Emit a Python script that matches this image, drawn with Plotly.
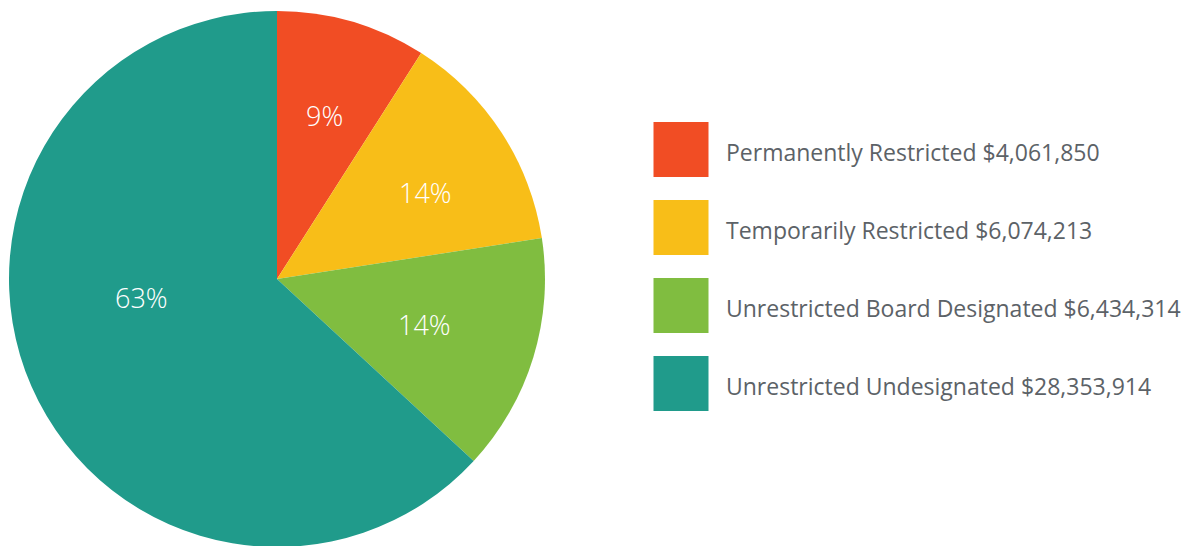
import math
import plotly.graph_objects as go

categories = ["Permanently Restricted", "Temporarily Restricted",
              "Unrestricted Board Designated", "Unrestricted Undesignated"]
values = [4061850, 6074213, 6434314, 28353914]
colors = ["#F14D24", "#F8BE18", "#80BD40", "#209B8B"]

W, H = 1195, 546
OFF = 8  # default page body margin shifts the figure by 8px
legend_text = [f"{c} ${v:,}" for c, v in zip(categories, values)]

# Pie geometry (page pixels)
cx, cy, R = 277, 279, 268
label_radius = [0.635, 0.64, 0.575, 0.51]
label_angle_shift = [0, 3, 0, 16]

fig = go.Figure()
fig.add_trace(go.Pie(
    labels=categories, values=values, sort=False, direction="clockwise",
    rotation=0, marker=dict(colors=colors, line=dict(width=0)),
    textinfo="none",
    domain=dict(x=[(cx - R - OFF) / W, (cx + R - OFF) / W],
                y=[1 - (cy + R - OFF) / H, 1 - (cy - R - OFF) / H]),
    showlegend=False, hoverinfo="label+value+percent",
))

# Percentage labels placed from the data (mid-angle of each slice)
total = sum(values)
cum = 0
for v, rf, sh in zip(values, label_radius, label_angle_shift):
    mid = (cum + v / 2) / total * 360 + sh
    cum += v
    px = cx + rf * R * math.sin(math.radians(mid)) - OFF
    py = cy - rf * R * math.cos(math.radians(mid)) - OFF
    fig.add_annotation(
        x=px / W, y=1 - py / H, xref="paper", yref="paper",
        text=f"{round(v / total * 100)}%", showarrow=False,
        xanchor="center", yanchor="middle",
        font=dict(color="white", size=27, family="Open Sans", weight=300),
    )

# Legend built as a scatter on its own axes
fig.add_trace(go.Scatter(
    x=[0] * len(categories), y=categories, mode="markers",
    marker=dict(symbol="square", size=55, color=colors, line=dict(width=0)),
    showlegend=False, hoverinfo="skip", xaxis="x", yaxis="y",
))
for c, t in zip(categories, legend_text):
    fig.add_annotation(
        x=43, y=c, xref="x", yref="y", text=t, showarrow=False,
        xanchor="left", yanchor="middle", yshift=-2,
        font=dict(size=23, color="#5C6267", family="Open Sans"),
    )

x0 = 681 - OFF  # swatch centre pixel
y_first, step = 149.5 - OFF, 78
fig.update_layout(
    width=W, height=H, margin=dict(l=0, r=0, t=0, b=0),
    paper_bgcolor="white", plot_bgcolor="rgba(0,0,0,0)",
    xaxis=dict(domain=[0, 1], range=[-x0, W - x0], visible=False, fixedrange=True),
    yaxis=dict(domain=[0, 1], range=[(H - y_first) / step, -y_first / step],
               visible=False, fixedrange=True, type="category",
               categoryorder="array", categoryarray=categories),
)

fig.write_html("out.html")
